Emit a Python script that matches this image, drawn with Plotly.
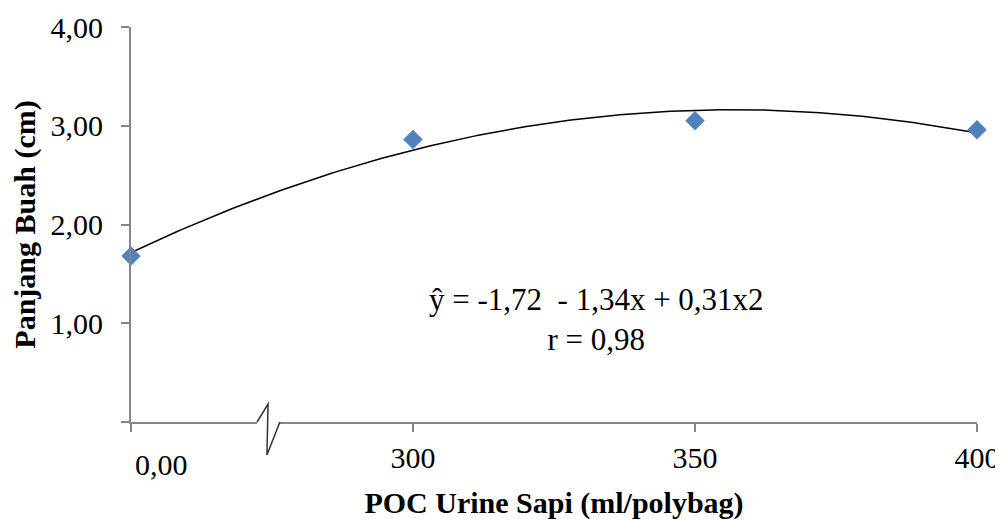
import numpy as np
import plotly.graph_objects as go

# ---- data ----
x_pos = [1, 2, 3, 4]
x_labels = ["0,00", "300", "350", "400"]
panjang = [1.68, 2.86, 3.05, 2.96]
y_ticks = [0, 1, 2, 3, 4]
y_labels = ["", "1,00", "2,00", "3,00", "4,00"]
eq_text = "ŷ = -1,72\u00a0\u00a0- 1,34x + 0,31x2<br>r = 0,98"

FONT = "Liberation Serif, Times New Roman, serif"
AXIS_COLOR = "#868686"

# polynomial (order 2) trendline fitted to the data
coef = np.polyfit(x_pos, panjang, 2)
xs = np.linspace(min(x_pos), max(x_pos), 200)
ys = np.polyval(coef, xs)

fig = go.Figure()
fig.add_trace(go.Scatter(x=xs, y=ys, mode="lines",
                         line=dict(color="black", width=1.5),
                         hoverinfo="skip", showlegend=False))
fig.add_trace(go.Scatter(x=x_pos, y=panjang, mode="markers",
                         marker=dict(symbol="diamond", size=15, color="#4F81BD",
                                     line=dict(width=0)),
                         showlegend=False, cliponaxis=False))

fig.update_layout(
    width=995, height=512,
    margin=dict(l=123, r=26, t=19, b=98, autoexpand=False),
    plot_bgcolor="white", paper_bgcolor="white",
    font=dict(family=FONT, size=30, color="black"),
    showlegend=False,
    xaxis=dict(range=[1, 4], tickvals=x_pos,
               ticktext=[""] + x_labels[1:],
               showgrid=False, zeroline=False, automargin=False,
               showline=True, linecolor=AXIS_COLOR, linewidth=2,
               ticks="outside", ticklen=8, tickcolor=AXIS_COLOR, tickwidth=1.5,
               ticklabelstandoff=0,
               tickfont=dict(family=FONT, size=30),
               title=dict(text="<b>POC Urine Sapi (ml/polybag)</b>",
                          font=dict(family=FONT, size=30), standoff=19)),
    yaxis=dict(range=[0, 4], tickvals=y_ticks, ticktext=y_labels,
               showgrid=False, zeroline=False, automargin=False,
               showline=True, linecolor=AXIS_COLOR, linewidth=2,
               ticks="outside", ticklen=8, tickcolor=AXIS_COLOR, tickwidth=1.5,
               ticklabelstandoff=12,
               tickfont=dict(family=FONT, size=30),
               title=dict(text="<b>Panjang Buah (cm)</b>",
                          font=dict(family=FONT, size=30), standoff=9)),
)

# first category label (placed slightly lower, left aligned as in the reference)
fig.add_annotation(x=x_pos[0], y=0, xref="x", yref="y", text=x_labels[0],
                   showarrow=False, xanchor="left", yanchor="top",
                   xshift=2, yshift=-24, font=dict(family=FONT, size=30))

# regression equation
fig.add_annotation(x=2.65, y=1.04, xref="x", yref="y", text=eq_text,
                   showarrow=False, align="center",
                   font=dict(family=FONT, size=31))

# axis break symbol
fig.add_shape(type="line", xref="x", yref="paper", x0=1.447, x1=1.528, y0=0, y1=0,
              line=dict(color="white", width=4), layer="above")
fig.add_shape(type="path", xref="x", yref="paper",
              path="M 1.447 0 L 1.486 0.0456 L 1.482 -0.0835 L 1.528 0",
              line=dict(color="#333333", width=1.5), layer="above")

fig.write_html("out.html")
